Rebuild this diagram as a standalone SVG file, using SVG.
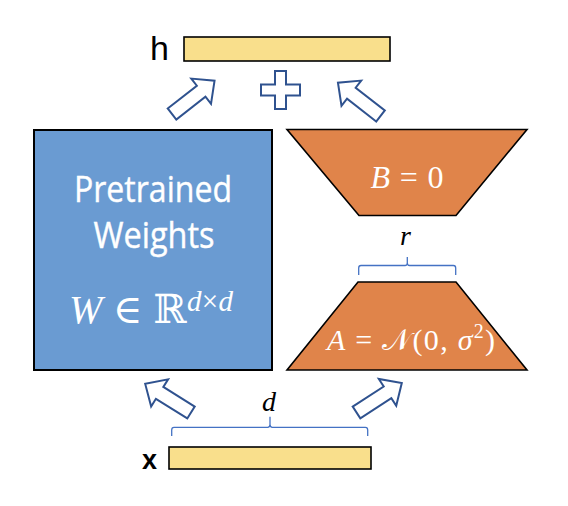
<svg xmlns="http://www.w3.org/2000/svg" width="568" height="506" viewBox="0 0 568 506">
<style>
.bar{fill:#F9DF8C;stroke:#000;stroke-width:1.6}
.arr{fill:#fff;stroke:#2F528F;stroke-width:2;stroke-linejoin:miter}
.brace{fill:none;stroke:#4472C4;stroke-width:1.3}
.trap{fill:#E0844A;stroke:#000;stroke-width:1.6}
.lbl{font-family:"Liberation Sans",Arial,sans-serif;fill:#000}
.wt{font-family:"Open Sans","Noto Sans",sans-serif;fill:#fff;font-size:36px;text-anchor:middle;stroke:#fff;stroke-width:0.4}
.m{font-family:"Liberation Serif","DejaVu Serif",serif}
.mi{font-style:italic}
</style>
<defs>
<polygon id="blk" points="0,-7 37,-7 37,-16 54,0 37,16 37,7 0,7"/>
</defs>
<rect width="568" height="506" fill="#fff"/>
<g id="h">
<text class="lbl" x="150" y="60" font-size="34">h</text>
<rect class="bar" x="184" y="37" width="206" height="24"/>
</g>
<g id="plus">
<polygon class="arr" points="275,71 286,71 286,84.5 300,84.5 300,95.5 286,95.5 286,109 275,109 275,95.5 261,95.5 261,84.5 275,84.5"/>
</g>
<g id="weights">
<rect x="34" y="130" width="238" height="240" fill="#6A9BD2" stroke="#000" stroke-width="2"/>
<text class="wt" x="153" y="202" textLength="158" lengthAdjust="spacingAndGlyphs">Pretrained</text>
<text class="wt" x="154" y="248" textLength="121" lengthAdjust="spacingAndGlyphs">Weights</text>
<text class="m" x="69" y="323" font-size="40" fill="#fff" textLength="164" lengthAdjust="spacing"><tspan class="mi">W</tspan> ∈ ℝ<tspan class="mi" font-size="29" dy="-12">d</tspan><tspan font-size="29">×</tspan><tspan class="mi" font-size="29">d</tspan></text>
</g>
<g id="B">
<polygon class="trap" points="287,129.5 527,129.5 456,215.5 359,215.5"/>
<text class="m" x="407" y="188" font-size="32" fill="#fff" text-anchor="middle" textLength="73" lengthAdjust="spacing"><tspan class="mi">B</tspan> = 0</text>
</g>
<g id="A">
<polygon class="trap" points="358,282 456,282 527,370 287,370"/>
<text class="m" x="411" y="350" font-size="30" fill="#fff" text-anchor="middle" textLength="168" lengthAdjust="spacing"><tspan class="mi">A</tspan> = 𝒩(0, <tspan class="mi">σ</tspan><tspan font-size="20" dy="-12">2</tspan><tspan dy="12">)</tspan></text>
</g>
<g id="r">
<path class="brace" d="M358.7,275 V268 Q358.7,265.5 361,265.5 H405 Q407.3,265.5 407.3,263 V257 M407.3,263 Q407.3,265.5 409.6,265.5 H453.4 Q455.7,265.5 455.7,268 V275"/>
<text class="m mi" x="405.5" y="245" font-size="28" text-anchor="middle">r</text>
</g>
<g id="d">
<path class="brace" d="M171.7,436 V430 Q171.7,427.3 174,427.3 H267.7 Q270,427.3 270,424.5 V416.7 M270,424.5 Q270,427.3 272.3,427.3 H365.4 Q367.7,427.3 367.7,430 V436"/>
<text class="m mi" x="269" y="411" font-size="28" text-anchor="middle">d</text>
</g>
<g id="x">
<text class="lbl" x="142" y="469" font-size="27" font-weight="bold">x</text>
<rect class="bar" x="169" y="447" width="202" height="22"/>
</g>
<g id="connectors">
<use href="#blk" class="arr" transform="translate(172,114) rotate(-38)"/>
<use href="#blk" class="arr" transform="translate(380.5,116) rotate(-142)"/>
<use href="#blk" class="arr" transform="translate(191,412.5) rotate(-148)"/>
<use href="#blk" class="arr" transform="translate(356.5,412.5) rotate(-33)"/>
</g>
</svg>
